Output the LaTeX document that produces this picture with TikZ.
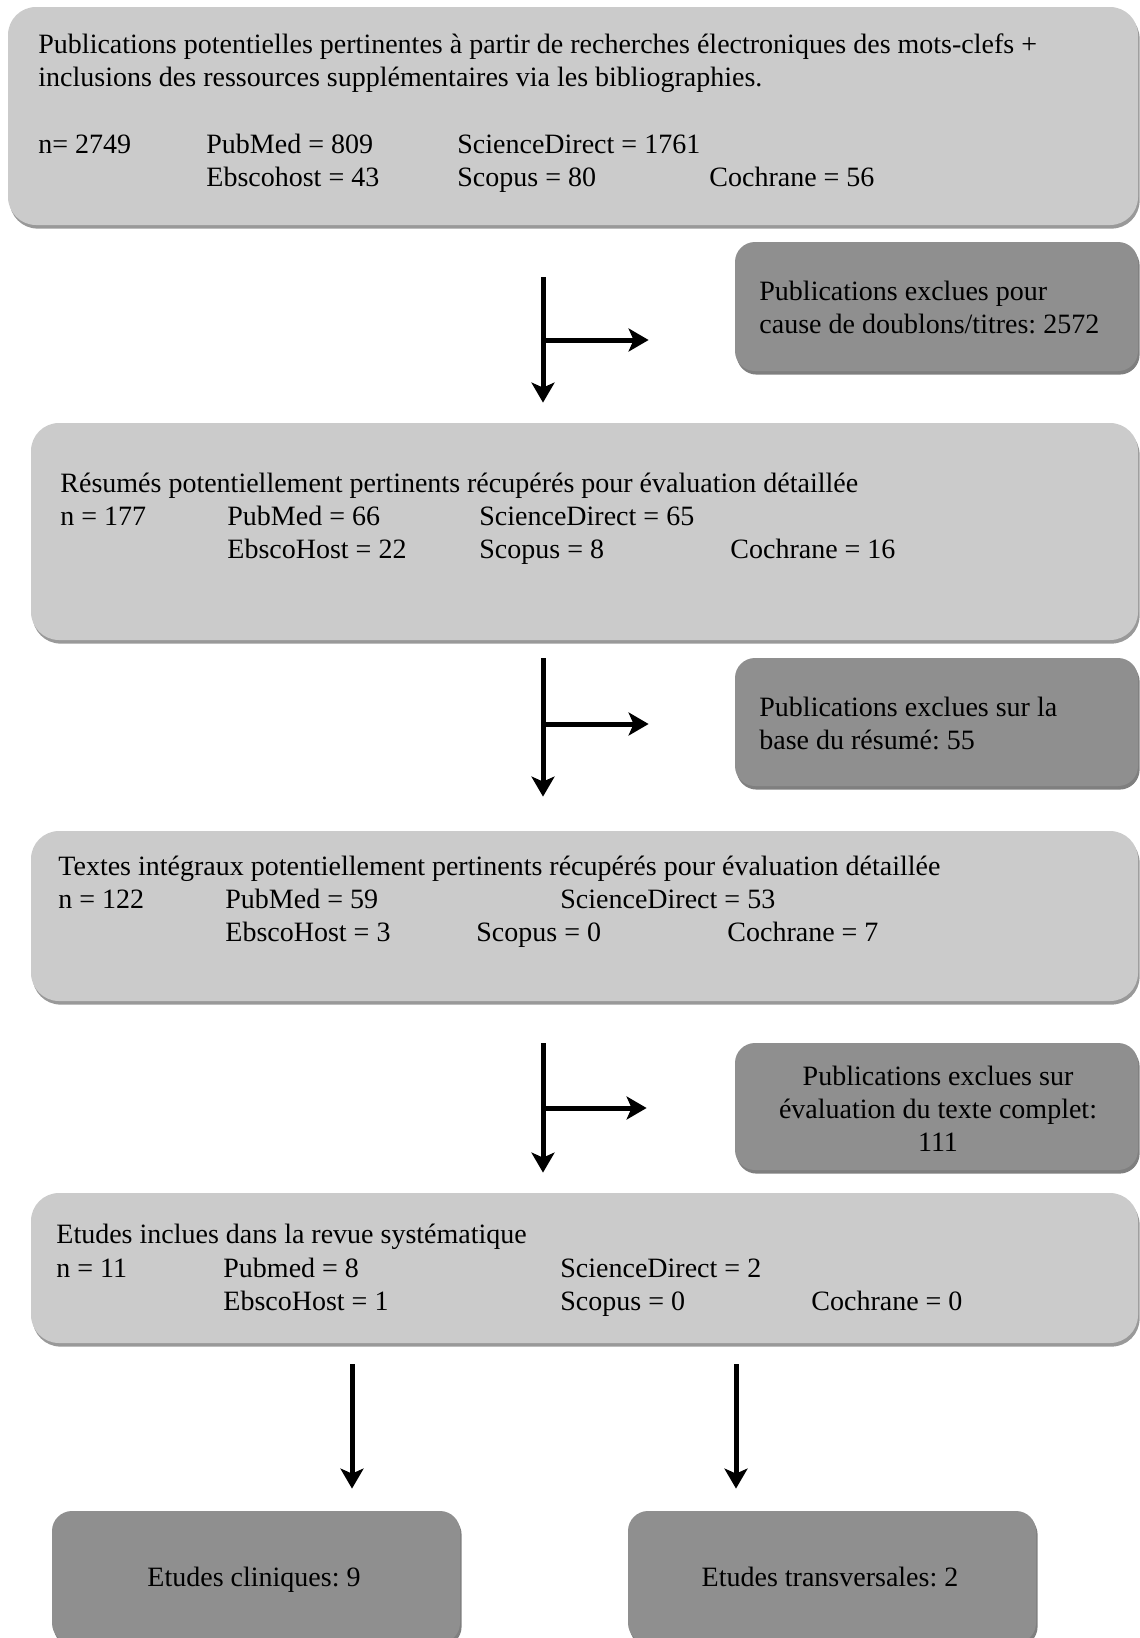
\documentclass[tikz,border=0pt]{standalone}
\usepackage{fontspec}
\setmainfont{Liberation Serif}
\usetikzlibrary{shadows,arrows.meta}
\definecolor{boxlight}{HTML}{CBCBCB}
\definecolor{boxdark}{HTML}{8F8F8F}
\frenchspacing
\tikzset{
  bigbox/.style={fill=boxlight, rounded corners=14pt, inner sep=0pt,
    drop shadow={shadow xshift=0.8pt, shadow yshift=-1.8pt, fill=black, opacity=0.4}},
  outbox/.style={fill=boxdark, rounded corners=10pt, inner sep=0pt,
    drop shadow={shadow xshift=0.8pt, shadow yshift=-1.8pt, fill=black, opacity=0.5}},
  txt/.style={anchor=base west, inner sep=0pt},
  arr/.style={line width=2.5pt, -{Stealth[length=10pt,width=11.5pt,inset=2.5pt]}},
}
\begin{document}
\begin{tikzpicture}[x=0.5pt,y=-0.5pt,font=\fontsize{14}{16.5}\selectfont]
\useasboundingbox (0,0) rectangle (1140,1638);
\clip (0,0) rectangle (1140,1638);

% boxes
\node[bigbox, minimum width=565pt, minimum height=109pt] (box1) at (573,116) {};
\node[outbox, minimum width=201.5pt, minimum height=64.5pt] (excl1) at (936.5,306.5) {};
\node[bigbox, minimum width=553.5pt, minimum height=108.5pt] (box2) at (584.5,531.5) {};
\node[outbox, minimum width=201.5pt, minimum height=64pt] (excl2) at (936.5,722) {};
\node[bigbox, minimum width=553.5pt, minimum height=85pt] (box3) at (584.5,916) {};
\node[outbox, minimum width=201.5pt, minimum height=63.5pt] (excl3) at (936.5,1106.5) {};
\node[bigbox, minimum width=553.5pt, minimum height=75pt] (box4) at (584.5,1268) {};
\node[outbox, minimum width=204pt, minimum height=66pt] (res1) at (256,1577) {};
\node[outbox, minimum width=204pt, minimum height=66pt] (res2) at (832,1577) {};

% texts of box1
\node[txt] (t1a) at (38,54) {Publications potentielles pertinentes à partir de recherches électroniques des mots-clefs +};
\node[txt] (t1b) at (38,86) {inclusions des ressources supplémentaires via les bibliographies.};
\node[txt] (n1) at (38,153) {n= 2749};
\node[txt] (pm1) at (206,153) {PubMed = 809};
\node[txt] (sd1) at (457,153) {ScienceDirect = 1761};
\node[txt] (eb1) at (206,186) {Ebscohost = 43};
\node[txt] (sc1) at (457,186) {Scopus = 80};
\node[txt] (co1) at (709,186) {Cochrane = 56};
\node[txt] (x1a) at (759,300) {Publications exclues pour};
\node[txt] (x1b) at (759,333) {cause de doublons/titres: 2572};

% texts of box2
\node[txt] (t2) at (60,492) {Résumés potentiellement pertinents récupérés pour évaluation détaillée};
\node[txt] (n2) at (60,525) {n = 177};
\node[txt] (pm2) at (227,525) {PubMed = 66};
\node[txt] (sd2) at (479,525) {ScienceDirect = 65};
\node[txt] (eb2) at (227,558) {EbscoHost = 22};
\node[txt] (sc2) at (479,558) {Scopus = 8};
\node[txt] (co2) at (730,558) {Cochrane = 16};
\node[txt] (x2a) at (759,716) {Publications exclues sur la};
\node[txt] (x2b) at (759,749) {base du résumé: 55};

% texts of box3
\node[txt] (t3) at (58,875) {Textes intégraux potentiellement pertinents récupérés pour évaluation détaillée};
\node[txt] (n3) at (58,908) {n = 122};
\node[txt] (pm3) at (225,908) {PubMed = 59};
\node[txt] (sd3) at (560,908) {ScienceDirect = 53};
\node[txt] (eb3) at (225,941) {EbscoHost = 3};
\node[txt] (sc3) at (476,941) {Scopus = 0};
\node[txt] (co3) at (727,941) {Cochrane = 7};
\node[align=center, inner sep=0pt] (x3) at (938,1109) {Publications exclues sur\\évaluation du texte complet:\\111};

% texts of box4
\node[txt] (t4) at (56,1243) {Etudes inclues dans la revue systématique};
\node[txt] (n4) at (56,1277) {n = 11};
\node[txt] (pm4) at (223,1277) {Pubmed = 8};
\node[txt] (sd4) at (560,1277) {ScienceDirect = 2};
\node[txt] (eb4) at (223,1310) {EbscoHost = 1};
\node[txt] (sc4) at (560,1310) {Scopus = 0};
\node[txt] (co4) at (811,1310) {Cochrane = 0};
\node[anchor=base, inner sep=0pt] (r1) at (254,1586) {Etudes cliniques: 9};
\node[anchor=base, inner sep=0pt] (r2) at (830,1586) {Etudes transversales: 2};

% arrows
\coordinate (v1) at (543,340);
\coordinate (v2) at (543,724);
\coordinate (v3) at (543,1108);
\draw[arr, shorten <=26pt, shorten >=10pt] (box1.south -| v1) -- (box2.north -| v1);
\draw[arr, shorten >=43pt] (v1) -- (v1 -| excl1.west);
\draw[arr, shorten <=9pt, shorten >=17pt] (box2.south -| v2) -- (box3.north -| v2);
\draw[arr, shorten >=43pt] (v2) -- (v2 -| excl2.west);
\draw[arr, shorten <=21pt, shorten >=10pt] (box3.south -| v3) -- (box4.north -| v3);
\draw[arr, shorten >=44pt] (v3) -- (v3 -| excl3.west);
\coordinate (d1) at (352,1364);
\coordinate (d2) at (736,1364);
\draw[arr, shorten >=11pt] (d1) -- (d1 |- res1.north);
\draw[arr, shorten >=11pt] (d2) -- (d2 |- res2.north);
\end{tikzpicture}
\end{document}
